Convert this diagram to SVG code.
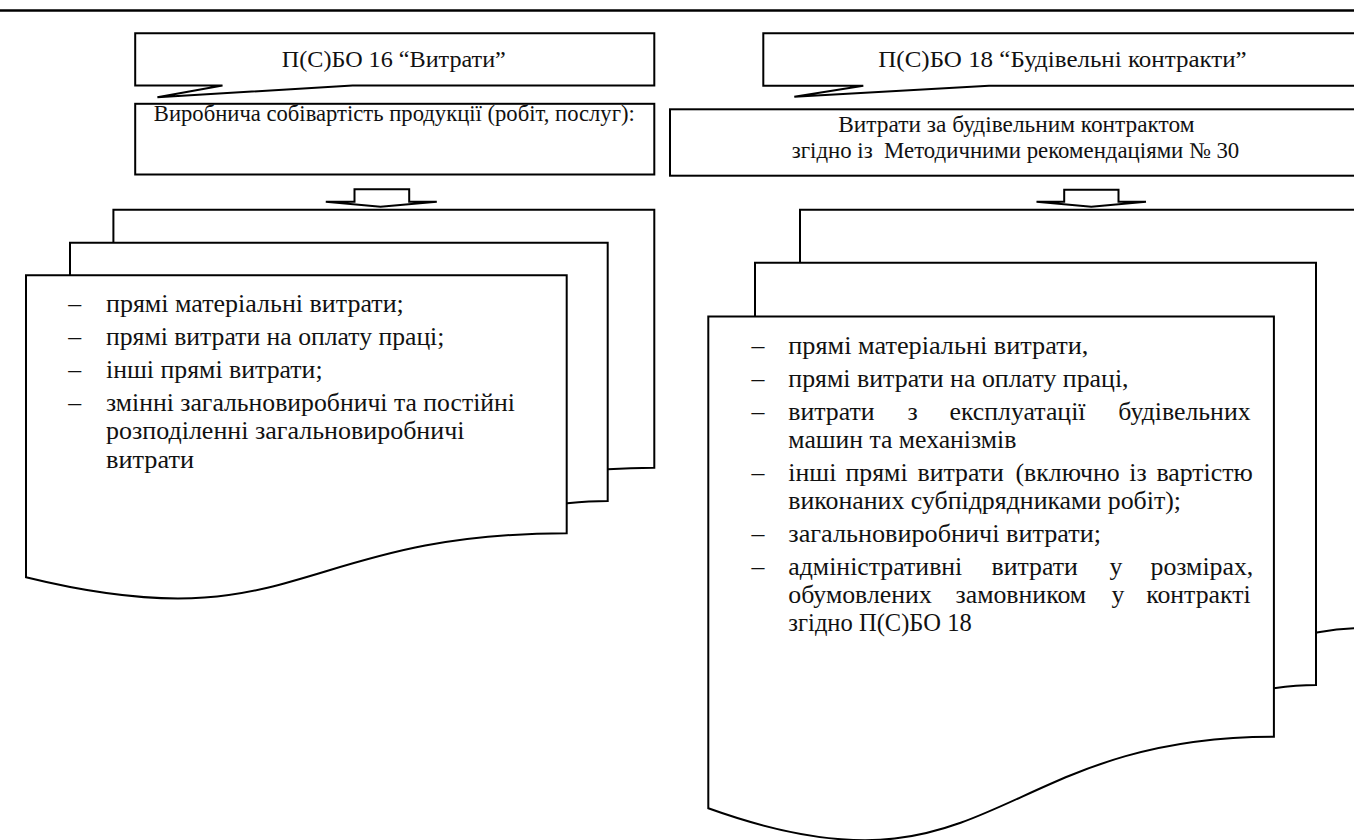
<svg xmlns="http://www.w3.org/2000/svg" width="1354" height="840" viewBox="0 0 1354 840">
<style>
.s{fill:#fff;stroke:#000;stroke-width:2;stroke-linejoin:miter}
.t{font-family:"Liberation Serif","Times New Roman",serif;fill:#111}
.h{font-size:24px;text-anchor:middle}
.b{font-size:22.6px;text-anchor:middle}
.l{font-size:25.8px}
</style>
<rect width="1354" height="840" fill="#fff"/>
<line x1="0" y1="10.5" x2="1354" y2="10.5" stroke="#000" stroke-width="2.6"/>

<g id="callout-psbo16">
<path class="s" d="M135.2,33.3 H654.3 V85.5 H352.6 L157.4,97.3 L222.5,85.5 H135.2 Z"/>
<text class="t h" x="393.8" y="66.5" textLength="224" lengthAdjust="spacingAndGlyphs">П(С)БО 16 “Витрати”</text>
</g>

<g id="callout-psbo18">
<path class="s" d="M763.3,33.3 H1362 V85.7 H989 L794.3,96.7 L863.3,85.7 H763.3 Z"/>
<text class="t h" x="1062.5" y="66.5" textLength="368.4" lengthAdjust="spacingAndGlyphs">П(С)БО 18 “Будівельні контракти”</text>
</g>

<g id="box-cost16">
<rect class="s" x="135.2" y="103.8" width="519.1" height="70.7"/>
<text class="t b" x="394.3" y="120.5" textLength="481" lengthAdjust="spacingAndGlyphs">Виробнича собівартість продукції (робіт, послуг):</text>
</g>

<g id="box-cost18">
<rect class="s" x="670" y="109.3" width="692" height="66.4"/>
<text class="t b" x="1016.4" y="132" textLength="356.2" lengthAdjust="spacingAndGlyphs">Витрати за будівельним контрактом</text>
<text class="t b" x="1015.5" y="157.5" xml:space="preserve" textLength="447.6" lengthAdjust="spacingAndGlyphs">згідно із  Методичними рекомендаціями № 30</text>
</g>

<g id="connectors">
<path class="s" d="M354.5,189.3 H409.2 V201.7 H436.8 L380.5,206.7 L325.8,201.7 H354.5 Z"/>
<path class="s" d="M1064.2,189.8 H1118.5 V201.7 H1146 L1091.3,206.7 L1036.5,201.7 H1064.2 Z"/>
</g>

<g id="docs-psbo16">
<path class="s" d="M113.4,209.8 H654.3 V467.7 C632,467.7 622,468.3 607.7,469.3 L113.4,480 Z"/>
<path class="s" d="M70,242.7 H607.7 V501 C590,501 580,502 566.7,503.3 L70,520 Z"/>
<path class="s" d="M26,275.3 H566.7 V533.3 C296,533.3 296,643.7 26,577.3 Z"/>
<g class="t l">
<text x="68.3" y="311.5">–</text><text x="106" y="311.5" textLength="297.8" lengthAdjust="spacingAndGlyphs">прямі матеріальні витрати;</text>
<text x="68.3" y="344.5">–</text><text x="106" y="344.5" textLength="338.4" lengthAdjust="spacingAndGlyphs">прямі витрати на оплату праці;</text>
<text x="68.3" y="377.5">–</text><text x="106" y="377.5" textLength="216.6" lengthAdjust="spacingAndGlyphs">інші прямі витрати;</text>
<text x="68.3" y="410.5">–</text><text x="106" y="410.5" textLength="409" lengthAdjust="spacingAndGlyphs">змінні загальновиробничі та постійні</text>
<text x="106" y="439" textLength="358.5" lengthAdjust="spacingAndGlyphs">розподіленні загальновиробничі</text>
<text x="106" y="467.5" textLength="88" lengthAdjust="spacingAndGlyphs">витрати</text>
</g>
</g>

<g id="docs-psbo18">
<path class="s" d="M800,209.8 H1362 V628 C1340,628 1328,630.5 1316,632.7 L800,650 Z"/>
<path class="s" d="M755,262.7 H1316 V685 C1300,685 1290,686 1273.9,688.3 L755,700 Z"/>
<path class="s" d="M708.3,316.5 H1273.9 V736.7 C991,736.7 991,910 708.3,808.3 Z"/>
<g class="t l">
<text x="751.4" y="354">–</text><text x="788.3" y="354" textLength="300" lengthAdjust="spacingAndGlyphs">прямі матеріальні витрати,</text>
<text x="751.4" y="386.8">–</text><text x="788.3" y="386.8" textLength="340.3" lengthAdjust="spacingAndGlyphs">прямі витрати на оплату праці,</text>
<text x="751.4" y="419.6">–</text>
<text y="419.6"><tspan x="788.3">витрати</tspan><tspan x="907.5">з</tspan><tspan x="949.5">експлуатації</tspan><tspan x="1118.3">будівельних</tspan></text>
<text x="788.3" y="447.9" textLength="228" lengthAdjust="spacingAndGlyphs">машин та механізмів</text>
<text x="751.4" y="480.7">–</text>
<text y="480.7"><tspan x="788.3">інші</tspan><tspan x="845.5">прямі</tspan><tspan x="917.5">витрати</tspan><tspan x="1015.5">(включно</tspan><tspan x="1129.3">із</tspan><tspan x="1156.5">вартістю</tspan></text>
<text x="788.3" y="509" textLength="392.7" lengthAdjust="spacingAndGlyphs">виконаних субпідрядниками робіт);</text>
<text x="751.4" y="541.8">–</text><text x="788.3" y="541.8" textLength="312.7" lengthAdjust="spacingAndGlyphs">загальновиробничі витрати;</text>
<text x="751.4" y="574.6">–</text>
<text y="574.6"><tspan x="788.3">адміністративні</tspan><tspan x="991.5">витрати</tspan><tspan x="1109.5">у</tspan><tspan x="1150.5">розмірах,</tspan></text>
<text y="602.9"><tspan x="788.3">обумовлених</tspan><tspan x="955.5">замовником</tspan><tspan x="1111.5">у</tspan><tspan x="1146.2">контракті</tspan></text>
<text x="788.3" y="631.2" textLength="183.4" lengthAdjust="spacingAndGlyphs">згідно П(С)БО 18</text>
</g>
</g>
</svg>
